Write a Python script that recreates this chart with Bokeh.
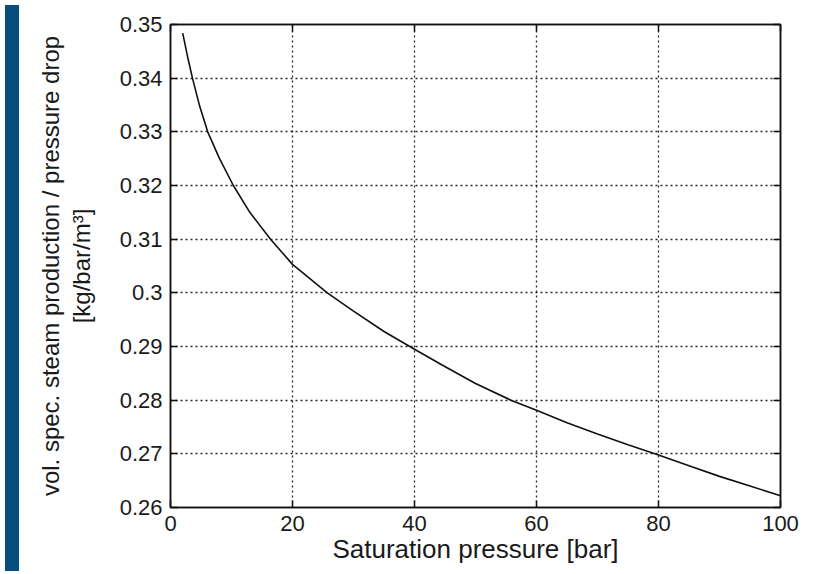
from bokeh.plotting import figure
from bokeh.models import Div, LinearAxis, FixedTicker, Range1d
from bokeh.layouts import row
from bokeh.embed import file_html
from bokeh.resources import INLINE

# Data
pressure = [2, 2.8, 3.6, 4.8, 6.1, 8, 10.3, 13, 16.4, 20, 25.7, 30, 35, 40,
            44.6, 50, 55.8, 60, 65, 70, 75, 80, 85, 90, 95, 100]
ratio = [0.3484, 0.3440, 0.3400, 0.3347, 0.3300, 0.3251, 0.3200, 0.3150,
         0.3100, 0.3053, 0.3000, 0.2966, 0.2928, 0.2895, 0.2865, 0.2831,
         0.2800, 0.2781, 0.2758, 0.2737, 0.2717, 0.2698, 0.2678, 0.2658,
         0.2640, 0.2622]

xticks = [0, 20, 40, 60, 80, 100]
yticks = [0.26, 0.27, 0.28, 0.29, 0.30, 0.31, 0.32, 0.33, 0.34, 0.35]
ytick_labels = ["0.26", "0.27", "0.28", "0.29", "0.3", "0.31", "0.32",
                "0.33", "0.34", "0.35"]

xlabel = "Saturation pressure [bar]"
ylabel = "vol. spec. steam production / pressure drop\n[kg/bar/m\u00b3]"

FONT = "Liberation Sans"
TXT = "#1a1a1a"
H = 566

p = figure(width=800, height=H, output_backend="svg", toolbar_location=None,
           x_range=Range1d(0, 100), y_range=Range1d(0.26, 0.35),
           min_border_left=146, min_border_right=44, min_border_top=24,
           min_border_bottom=59, background_fill_color="white",
           border_fill_color="white", outline_line_color="#111111",
           outline_line_width=1.5)

p.line(pressure, ratio, line_color="#111111", line_width=1.6)

for ax in (p.xaxis[0], p.yaxis[0]):
    ax.major_tick_in = 7
    ax.major_tick_out = 0
    ax.minor_tick_in = 0
    ax.minor_tick_out = 0
    ax.axis_line_color = "#111111"
    ax.axis_line_width = 1.5
    ax.major_tick_line_color = "#111111"
    ax.major_tick_line_width = 1.5
    ax.major_label_text_font = FONT
    ax.major_label_text_color = TXT
    ax.major_label_text_font_size = "22px"
    ax.axis_label_text_font = FONT
    ax.axis_label_text_color = TXT
    ax.axis_label_text_font_style = "normal"

p.xaxis[0].ticker = FixedTicker(ticks=xticks)
p.yaxis[0].ticker = FixedTicker(ticks=yticks)
p.yaxis[0].major_label_overrides = {t: l for t, l in zip(yticks, ytick_labels)}
p.xaxis[0].axis_label = xlabel
p.yaxis[0].axis_label = ylabel
p.xaxis[0].axis_label_text_font_size = "26px"
p.yaxis[0].axis_label_text_font_size = "24px"
p.yaxis[0].axis_label_text_line_height = 1.15
p.xaxis[0].major_label_standoff = 8
p.yaxis[0].major_label_standoff = 8
p.xaxis[0].axis_label_standoff = 0
p.yaxis[0].axis_label_standoff = 22

# top and right axes with inward ticks, no labels
def frame_axis(ticks):
    return LinearAxis(ticker=FixedTicker(ticks=ticks), major_label_text_font_size="0px",
                      major_tick_in=7, major_tick_out=0, minor_tick_in=0, minor_tick_out=0,
                      major_label_standoff=0,
                      axis_line_color="#111111", axis_line_width=1.5,
                      major_tick_line_color="#111111", major_tick_line_width=1.5)

p.add_layout(frame_axis(xticks), "above")
p.add_layout(frame_axis(yticks), "right")

for g in (p.xgrid[0], p.ygrid[0]):
    g.grid_line_color = "#111111"
    g.grid_line_dash = "2 3"
    g.grid_line_width = 1.3
    g.grid_line_alpha = 0.9
p.xgrid[0].ticker = FixedTicker(ticks=xticks)
p.ygrid[0].ticker = FixedTicker(ticks=yticks)

strip = Div(text="", width=14, height=H,
            styles={"background-color": "#064e7b", "width": "14px", "height": f"{H}px"})

layout = row(strip, p, spacing=0)

open("out.html", "w").write(file_html(layout, INLINE))
